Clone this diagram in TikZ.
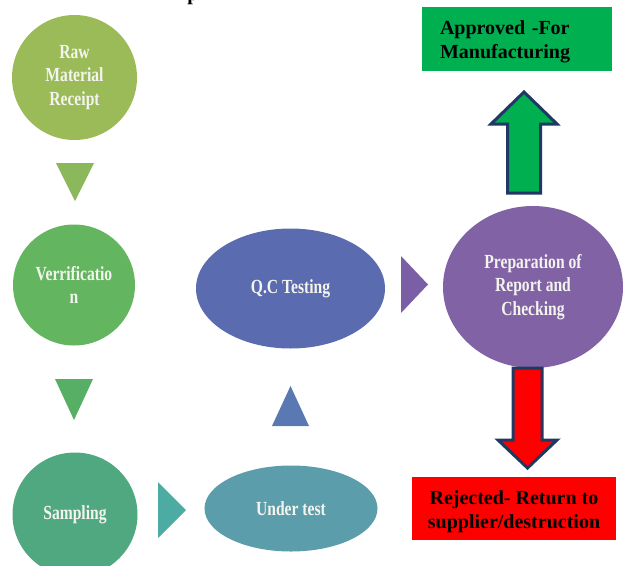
\documentclass[tikz,border=0pt]{standalone}
\usepackage{fontspec}
\setmainfont{Liberation Serif}
\newfontfamily\condserif[FakeStretch=0.78]{Liberation Serif}
\usetikzlibrary{shapes.geometric}

% stage colours
\definecolor{rawc}{RGB}{155,187,89}
\definecolor{chevA}{RGB}{138,184,90}
\definecolor{verc}{RGB}{99,181,96}
\definecolor{chevB}{RGB}{86,175,100}
\definecolor{samc}{RGB}{80,168,128}
\definecolor{chevC}{RGB}{76,171,162}
\definecolor{undc}{RGB}{91,157,170}
\definecolor{chevD}{RGB}{90,120,178}
\definecolor{qcc}{RGB}{91,107,175}
\definecolor{chevE}{RGB}{122,94,166}
\definecolor{prepc}{RGB}{128,98,165}
\definecolor{stagetext}{RGB}{244,244,238}
\definecolor{okgreen}{RGB}{0,176,80}
\definecolor{rejred}{RGB}{255,0,0}
\definecolor{navy}{RGB}{31,56,100}

\tikzset{
  stage/.style={ellipse, inner sep=0pt, draw=none, text=stagetext, align=center,
    font=\condserif\bfseries\fontsize{20}{23.5}\selectfont},
  verdictbox/.style={rectangle, inner sep=0pt, draw=none},
  verdicttext/.style={inner sep=0pt, text=black,
    font=\bfseries\fontsize{20}{23.5}\selectfont},
  blockarrow/.style={draw=navy, line width=3pt, line join=miter},
}

\begin{document}
\begin{tikzpicture}[x=1pt,y=-1pt]
\useasboundingbox (0,0) rectangle (623,565);
\clip (0,0) rectangle (623,565);

% tail of the heading line above the chart
\node[anchor=base, inner sep=0pt, font=\bfseries\fontsize{20}{24}\selectfont] (headtail) at (193,0.5) {p};

% process stages
\node[stage, fill=rawc, minimum width=125pt, minimum height=125pt] (raw) at (74.5,77.5) {Raw\\Material\\Receipt};
\node[stage, fill=verc, minimum width=122pt, minimum height=121pt] (verif) at (74,285) {Verrificatio\\n};
\node[stage, fill=samc, minimum width=125pt, minimum height=124pt] (samp) at (75,514.5) {Sampling};
\node[stage, fill=undc, minimum width=173pt, minimum height=86pt] (under) at (291,508.5) {Under test};
\node[stage, fill=qcc, minimum width=189pt, minimum height=120pt] (qc) at (290.5,288.5) {Q.C Testing};
\node[stage, fill=prepc, minimum width=180pt, minimum height=162pt] (prep) at (533,287) {Preparation of\\Report and\\Checking};

% chevrons between stages
\fill[chevA] (56,163) -- (94,163) -- (75,201) -- cycle;
\fill[chevB] (55,379) -- (93,379) -- (74,420) -- cycle;
\fill[chevC] (158,482) -- (186,510) -- (158,538) -- cycle;
\fill[chevD] (272,426) -- (309,426) -- (290.5,386) -- cycle;
\fill[chevE] (401,256) -- (428,284.5) -- (401,313) -- cycle;

% outcome boxes
\node[verdictbox, fill=okgreen, minimum width=190pt, minimum height=64pt] (approved) at (517,39) {};
\node[verdicttext, text width=154pt, align=left] (approvedtext)
  at ([xshift=0pt,yshift=-3pt]approved.center) {Approved -For\\Manufacturing};
\node[verdictbox, fill=rejred, minimum width=204pt, minimum height=63pt] (rejected) at (514,508.5) {};
\node[verdicttext, align=center] (rejectedtext)
  at ([yshift=-3pt]rejected.center) {Rejected- Return to\\supplier/destruction};

% block arrows to the outcomes
\draw[blockarrow, fill=okgreen]
  (507.5,193) -- (507.5,124) -- (491,124) -- (524,92) -- (557,124)
  -- (540.5,124) -- (540.5,193) -- cycle;
\draw[blockarrow, fill=rejred]
  (513,368) -- (542,368) -- (542,440) -- (557,440) -- (527.5,468)
  -- (498,440) -- (513,440) -- cycle;
\end{tikzpicture}
\end{document}
